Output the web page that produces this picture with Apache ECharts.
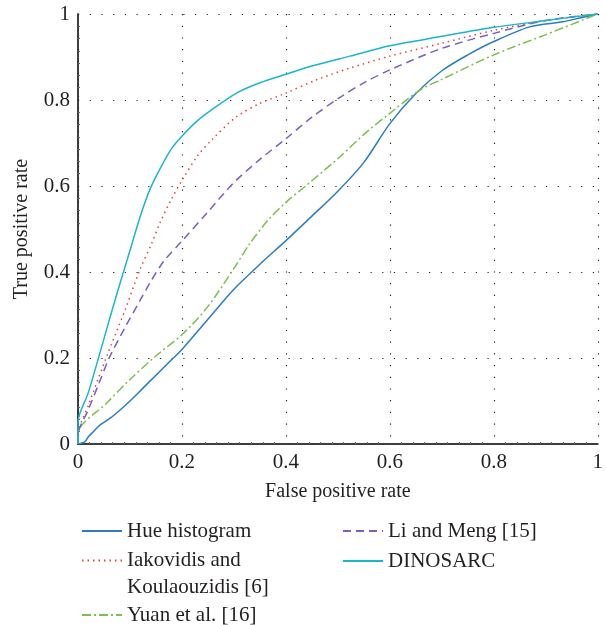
<!DOCTYPE html>
<html>
<head>
<meta charset="utf-8">
<script src="https://cdn.jsdelivr.net/npm/echarts@6/dist/echarts.min.js"></script>
<style>
  html, body { margin: 0; padding: 0; background: #fff; }
  #chart { width: 606px; height: 625px; }
</style>
</head>
<body>
<div id="chart"></div>
<script>
// ROC curves, [false positive rate, true positive rate]
const hueHistogram = [
  [0, 0], [0.013, 0.005], [0.02, 0.017], [0.03, 0.029], [0.042, 0.044], [0.062, 0.06],
  [0.081, 0.079], [0.1, 0.1], [0.125, 0.13], [0.15, 0.16], [0.175, 0.19], [0.2, 0.22],
  [0.25, 0.29], [0.3, 0.36], [0.35, 0.418], [0.4, 0.473], [0.45, 0.53], [0.5, 0.588],
  [0.55, 0.655], [0.6, 0.745], [0.65, 0.815], [0.7, 0.868], [0.75, 0.905], [0.8, 0.936],
  [0.869, 0.97], [0.933, 0.982], [0.97, 0.992], [1, 1]
]
const iakovidis = [
  [0, 0], [0, 0.02], [0.02, 0.09], [0.055, 0.203], [0.09, 0.31], [0.119, 0.405], [0.142, 0.467],
  [0.158, 0.515], [0.18, 0.57], [0.2025, 0.618], [0.23, 0.67], [0.257, 0.707], [0.305, 0.761],
  [0.35, 0.792], [0.4, 0.816], [0.459, 0.847], [0.523, 0.874], [0.6, 0.902], [0.7, 0.932],
  [0.8, 0.962], [0.9, 0.985], [1, 1]
]
const yuan = [
  [0, 0], [0, 0.025], [0.055, 0.095], [0.1, 0.15], [0.148, 0.203], [0.2025, 0.257], [0.25, 0.32],
  [0.302, 0.412], [0.33, 0.465], [0.366, 0.521], [0.4, 0.562], [0.44, 0.602], [0.504, 0.668],
  [0.55, 0.72], [0.6, 0.769], [0.658, 0.823], [0.7, 0.848], [0.8, 0.905], [0.9, 0.952], [1, 1]
]
const liMeng = [
  [0, 0], [0, 0.02], [0.02, 0.08], [0.04, 0.14], [0.06, 0.2], [0.09, 0.27], [0.12, 0.335],
  [0.14, 0.378], [0.165, 0.425], [0.2, 0.472], [0.25, 0.54], [0.3, 0.608], [0.35, 0.662], [0.4, 0.71],
  [0.45, 0.76], [0.5, 0.803], [0.55, 0.84], [0.6, 0.87], [0.7, 0.92], [0.8, 0.955],
  [0.9, 0.985], [1, 1]
]
const dinosarc = [
  [0, 0], [0, 0.05], [0.02, 0.12], [0.05, 0.245], [0.075, 0.35], [0.1, 0.45], [0.12, 0.53],
  [0.138, 0.591], [0.16, 0.645], [0.18, 0.687], [0.2025, 0.719], [0.23, 0.752], [0.257, 0.777],
  [0.305, 0.816], [0.35, 0.84], [0.4, 0.86], [0.45, 0.879], [0.523, 0.902], [0.6, 0.926],
  [0.7, 0.948], [0.8, 0.969], [0.9, 0.985], [1, 1]
]

const seriesNames = ['Hue histogram', 'Iakovidis and Koulaouzidis [6]', 'Yuan et al. [16]', 'Li and Meng [15]', 'DINOSARC']
const seriesData = [hueHistogram, iakovidis, yuan, liMeng, dinosarc]
const seriesColors = ['#2d7cc0', '#e8403a', '#7cbf4e', '#7d5eb8', '#19b7cc']
const seriesDash = ['solid', [1.5, 4], [9, 3, 2, 3], [8, 5], 'solid']

const FONT = 'Liberation Serif'
const TXT = '#231f20'

const chart = echarts.init(document.getElementById('chart'))

function legendAt(name, left, top, extra) {
  return Object.assign({
    data: [name],
    left: left,
    top: top,
    orient: 'vertical',
    padding: 0,
    itemWidth: 40,
    itemHeight: 14,
    selectedMode: false,
    itemStyle: { opacity: 0 },
    textStyle: { fontFamily: FONT, fontSize: 21, color: TXT, lineHeight: 21 },
  }, extra || {})
}

const option = {
  animation: false,
  grid: { left: 78, right: 8, top: 14, bottom: 181 },
  legend: [
    legendAt(seriesNames[0], 81, 520.5),
    // empty first line keeps the icon level with "Iakovidis and"
    legendAt(seriesNames[1], 81, 520, {
      formatter: () => '\nIakovidis and\nKoulaouzidis [6]',
      textStyle: { fontFamily: FONT, fontSize: 21, color: TXT, lineHeight: 27 },
    }),
    legendAt(seriesNames[2], 81, 604.5),
    legendAt(seriesNames[3], 342, 520.5),
    legendAt(seriesNames[4], 342, 550.5),
  ],
  xAxis: [
    {
      type: 'value', min: 0, max: 1, interval: 0.2, position: 'bottom',
      name: 'False positive rate', nameLocation: 'middle', nameGap: 38,
      nameTextStyle: { fontFamily: FONT, fontSize: 20, color: TXT },
      axisLine: { lineStyle: { color: '#333', width: 1.5 } },
      axisTick: { show: false },
      axisLabel: { fontFamily: FONT, fontSize: 21, color: TXT, margin: 8 },
      splitLine: { show: true, lineStyle: { color: '#222', width: 1.2, type: [1.2, 10.5] } },
    },
    {
      type: 'value', min: 0, max: 1, interval: 0.2, position: 'top',
      axisLine: { lineStyle: { color: '#333', width: 1.5 } },
      axisTick: { show: false },
      minorTick: { show: true, splitNumber: 9, length: 2, lineStyle: { color: '#666' } },
      axisLabel: { show: false },
      splitLine: { show: false },
    },
  ],
  yAxis: [
    {
      type: 'value', min: 0, max: 1, interval: 0.2, position: 'left',
      name: 'True positive rate', nameLocation: 'middle', nameGap: 46,
      nameTextStyle: { fontFamily: FONT, fontSize: 20, color: TXT },
      axisLine: { show: true, lineStyle: { color: '#333', width: 1.5 } },
      axisTick: { show: false },
      axisLabel: { fontFamily: FONT, fontSize: 21, color: TXT, margin: 8 },
      splitLine: { show: true, lineStyle: { color: '#222', width: 1.2, type: [1.2, 10.5] } },
    },
    {
      type: 'value', min: 0, max: 1, interval: 0.2, position: 'right',
      axisLine: { show: true, lineStyle: { color: '#333', width: 1.5 } },
      axisTick: { show: false },
      minorTick: { show: true, splitNumber: 7, length: 2, lineStyle: { color: '#666' } },
      axisLabel: { show: false },
      splitLine: { show: false },
    },
  ],
  series: seriesNames.map((name, i) => ({
    name: name,
    type: 'line',
    data: seriesData[i],
    symbol: 'none',
    smooth: 0.3,
    color: seriesColors[i],
    lineStyle: { color: seriesColors[i], width: 1.5, type: seriesDash[i] },
  })),
}

chart.setOption(option)
</script>
</body>
</html>
